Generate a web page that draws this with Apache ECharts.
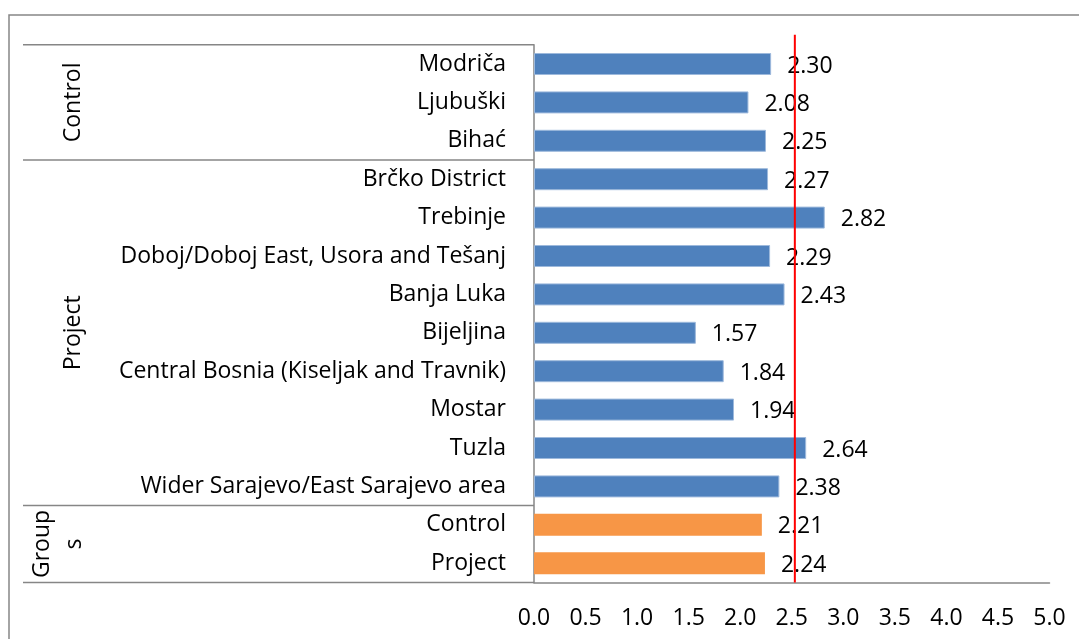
<!DOCTYPE html>
<html>
<head>
<meta charset="utf-8">
<script src="https://cdn.jsdelivr.net/npm/echarts@6/dist/echarts.min.js"></script>
<style>
  html, body { margin: 0; padding: 0; background: #fff; }
  #main { width: 1079px; height: 639px; }
</style>
</head>
<body>
<div id="main"></div>
<script>
// data
var categories = ['Modriča', 'Ljubuški', 'Bihać', 'Brčko District', 'Trebinje',
    'Doboj/Doboj East, Usora and Tešanj', 'Banja Luka', 'Bijeljina',
    'Central Bosnia (Kiseljak and Travnik)', 'Mostar', 'Tuzla',
    'Wider Sarajevo/East Sarajevo area', 'Control', 'Project'];
var values = [2.30, 2.08, 2.25, 2.27, 2.82, 2.29, 2.43, 1.57, 1.84, 1.94, 2.64, 2.38, 2.21, 2.24];
var groupNames = ['Control', 'Project', 'Group\ns'];
var groupSizes = [3, 9, 2];
var groupColors = ['#4F81BD', '#4F81BD', '#F79646'];
var refValue = 2.53;
var xMin = 0, xMax = 5, xStep = 0.5;

var FONT = 'Open Sans';
var FS = 23;
var chart = echarts.init(document.getElementById('main'));

// colour of each bar comes from its group
var barData = [];
var k = 0;
for (var g = 0; g < groupSizes.length; g++) {
    for (var j = 0; j < groupSizes[g]; j++) {
        barData.push({
            value: values[k],
            itemStyle: g < 2 ? { color: groupColors[g], borderColor: '#9db9dc', borderWidth: 1 }
                             : { color: groupColors[g] }
        });
        k++;
    }
}

chart.setOption({
    animation: false,
    grid: { left: 534, right: 29.5, top: 44.8, bottom: 56.6 },
    xAxis: {
        type: 'value', min: xMin, max: xMax, interval: xStep,
        axisLine: { show: true, lineStyle: { color: '#868686', width: 1.5 } },
        axisTick: { show: false },
        splitLine: { show: false },
        axisLabel: {
            margin: 25, color: '#000', fontSize: FS, fontFamily: FONT,
            formatter: function (v) { return v.toFixed(1); }
        }
    },
    yAxis: {
        type: 'category', inverse: true, data: categories,
        axisLine: { show: true, lineStyle: { color: '#868686', width: 1.5 } },
        axisTick: { show: false },
        axisLabel: { margin: 28, color: '#000', fontSize: FS, fontFamily: FONT }
    },
    series: [{
        type: 'bar',
        data: barData,
        barWidth: 22,
        label: {
            show: true, position: 'right', distance: 16, offset: [0, 2],
            color: '#000', fontSize: FS, fontFamily: FONT,
            formatter: function (p) { return p.value.toFixed(2); }
        }
    }]
});

// group separators, group titles, reference line and frame
function drawExtras() {
    var p0 = chart.convertToPixel({ gridIndex: 0 }, [0, 0]);
    var p1 = chart.convertToPixel({ gridIndex: 0 }, [0, 1]);
    var band = p1[1] - p0[1];
    var axisX = p0[0];
    var top = p0[1] - band / 2;
    var elements = [];

    elements.push({
        type: 'rect', silent: true,
        shape: { x: 9, y: 15, width: 1200, height: 800 },
        style: { fill: 'none', stroke: '#868686', lineWidth: 1.5 }
    });

    var start = 0;
    var y = top;
    elements.push({
        type: 'line', silent: true,
        shape: { x1: 23, y1: y, x2: axisX, y2: y },
        style: { stroke: '#868686', lineWidth: 1.5 }
    });
    for (var g = 0; g < groupSizes.length; g++) {
        var yEnd = top + (start + groupSizes[g]) * band;
        elements.push({
            type: 'line', silent: true,
            shape: { x1: 23, y1: yEnd, x2: axisX, y2: yEnd },
            style: { stroke: '#868686', lineWidth: 1.5 }
        });
        var multi = groupNames[g].indexOf('\n') >= 0;
        elements.push({
            type: 'text', silent: true,
            x: multi ? 58 : 73, y: (y + yEnd) / 2, rotation: Math.PI / 2,
            style: {
                text: groupNames[g], fill: '#000', fontSize: FS, fontFamily: FONT,
                align: 'center', verticalAlign: 'middle', lineHeight: 32
            }
        });
        start += groupSizes[g];
        y = yEnd;
    }

    var rx = chart.convertToPixel({ gridIndex: 0 }, [refValue, 0])[0];
    elements.push({
        type: 'line', silent: true, z: 100,
        shape: { x1: rx, y1: top - 10, x2: rx, y2: y },
        style: { stroke: '#FF0000', lineWidth: 2 }
    });

    chart.setOption({ graphic: elements });
}
drawExtras();
</script>
</body>
</html>
